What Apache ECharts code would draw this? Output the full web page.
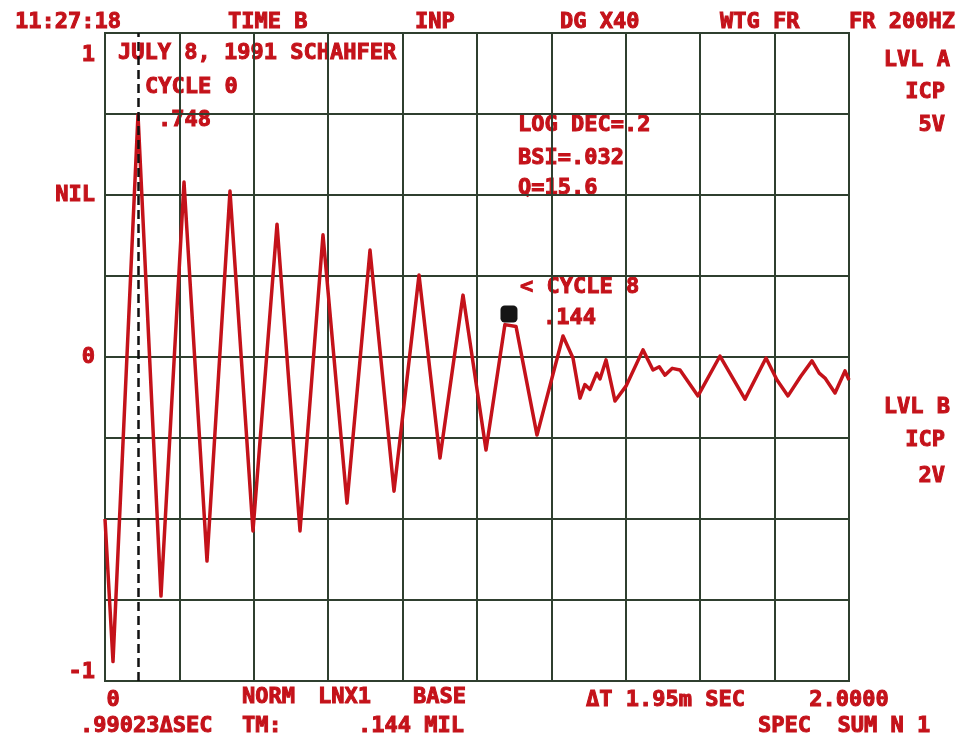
<!DOCTYPE html>
<html>
<head>
<meta charset="utf-8">
<script src="https://cdn.jsdelivr.net/npm/echarts@6/dist/echarts.min.js"></script>
<style>
  html, body { margin: 0; padding: 0; background: #fff; }
  #chart { width: 958px; height: 741px; }
</style>
</head>
<body>
<div id="chart"></div>
<script>
// sample times (sec) and amplitude
const times = [0, 0.0215, 0.0887, 0.1505, 0.2124, 0.2742, 0.336, 0.3978, 0.4624, 0.5242,
  0.586, 0.6505, 0.7124, 0.7769, 0.8441, 0.9005, 0.9624, 1.0242, 1.075, 1.105,
  1.1613, 1.2312, 1.258, 1.2769, 1.29, 1.3038, 1.322, 1.3306, 1.3468, 1.371,
  1.4005, 1.4462, 1.4731, 1.49, 1.5054, 1.525, 1.5457, 1.5941, 1.6532, 1.7204,
  1.7769, 1.8065, 1.836, 1.87, 1.9005, 1.92, 1.9355, 1.9624, 1.9892, 2.0]
const amps = [-0.5, -0.94, 0.748, -0.738, 0.54, -0.63, 0.512, -0.537, 0.41, -0.537,
  0.377, -0.451, 0.33, -0.414, 0.253, -0.312, 0.191, -0.287, 0.1, 0.094,
  -0.241, 0.065, -0.003, -0.127, -0.085, -0.1, -0.05, -0.068, -0.009, -0.136,
  -0.09, 0.022, -0.04, -0.03, -0.056, -0.035, -0.04, -0.12, 0.003, -0.13,
  -0.003, -0.071, -0.12, -0.06, -0.012, -0.05, -0.065, -0.111, -0.043, -0.071]
const cursorTime = [0.0914]
const cycleMarker = [1.086, 0.133]
const xTickLabels = { 0: '{z|0}', 2: '2.0000' }
const yTickLabels = { '0.5': 'NIL', '0': '0' }

const RED = '#c4121a'
const FONT = 'DejaVu Sans Mono'

class WaveChart {
  constructor (options) {
    this.$el = options.el
    this.$chart = echarts.init(this.$el)
  }
  text (str, x, y, align) {
    return {
      type: 'text',
      x: x,
      y: y,
      style: {
        text: str,
        fill: RED,
        stroke: RED,
        lineWidth: 1,
        font: 'bold 22px "' + FONT + '"',
        align: align || 'left',
        verticalAlign: 'middle'
      }
    }
  }
  render () {
    const t = this.text.bind(this)
    const gridLine = { color: '#2f3f2f', width: 2 }
    const labelStyle = {
      color: RED,
      fontFamily: FONT,
      fontWeight: 'bold',
      fontSize: 22,
      textBorderColor: RED,
      textBorderWidth: 1
    }
    const options = {
      animation: false,
      backgroundColor: '#fff',
      grid: { left: 105, right: 109, top: 33, bottom: 60, show: true, borderColor: '#2f3f2f', borderWidth: 2 },
      xAxis: {
        type: 'value',
        min: 0,
        max: 2,
        interval: 0.2,
        axisLine: { show: false },
        axisTick: { show: false },
        splitLine: { show: true, lineStyle: gridLine },
        axisLabel: Object.assign({
          margin: 8,
          formatter: v => xTickLabels[Math.round(v * 10) / 10] || '',
          rich: { z: Object.assign({ padding: [0, 0, 0, 16] }, labelStyle) }
        }, labelStyle)
      },
      yAxis: {
        type: 'value',
        min: -1,
        max: 1,
        interval: 0.25,
        axisLine: { show: false },
        axisTick: { show: false },
        splitLine: { show: true, lineStyle: gridLine },
        axisLabel: Object.assign({
          margin: 10,
          formatter: v => yTickLabels[String(v)] || ''
        }, labelStyle)
      },
      series: [
        {
          type: 'line',
          showSymbol: false,
          data: times.map((x, i) => [x, amps[i]]),
          lineStyle: { color: RED, width: 3.5, join: 'round' },
          markLine: {
            silent: true,
            symbol: 'none',
            label: { show: false },
            lineStyle: { color: '#111', type: [9, 5], width: 2.5 },
            data: cursorTime.map(v => ({ xAxis: v }))
          },
          markPoint: {
            silent: true,
            symbol: 'roundRect',
            symbolSize: 17,
            itemStyle: { color: '#151515' },
            label: { show: false },
            data: [{ coord: cycleMarker }]
          }
        }
      ],
      graphic: [
        // header
        t('11:27:18', 15, 22),
        t('TIME B', 228, 22),
        t('INP', 415, 22),
        t('DG X40', 560, 22),
        t('WTG FR', 720, 22),
        t('FR 200HZ', 955, 22, 'right'),
        // left scale
        t('1', 95, 55, 'right'),
        t('-1', 95, 672, 'right'),
        // in-plot notes
        t('JULY 8, 1991 SCHAHFER', 118, 53),
        t('CYCLE 0', 145, 87),
        t('.748', 158, 120),
        t('LOG DEC=.2', 518, 125),
        t('BSI=.032', 518, 158),
        t('Q=15.6', 518, 188),
        t('< CYCLE 8', 520, 287),
        t('.144', 543, 318),
        // right side
        t('LVL A', 950, 60, 'right'),
        t('ICP', 945, 92, 'right'),
        t('5V', 945, 125, 'right'),
        t('LVL B', 950, 407, 'right'),
        t('ICP', 945, 440, 'right'),
        t('2V', 945, 476, 'right'),
        // footer
        t('NORM', 242, 697),
        t('LNX1', 318, 697),
        t('BASE', 413, 697),
        t('.99023\u0394SEC', 80, 726),
        t('TM:', 242, 726),
        t('.144 MIL', 358, 726),
        t('\u0394T 1.95m SEC', 586, 700),
        t('SPEC  SUM N 1', 758, 726)
      ]
    }
    this.$chart.setOption(options)
  }
}

new WaveChart({ el: document.getElementById('chart') }).render()
</script>
</body>
</html>
